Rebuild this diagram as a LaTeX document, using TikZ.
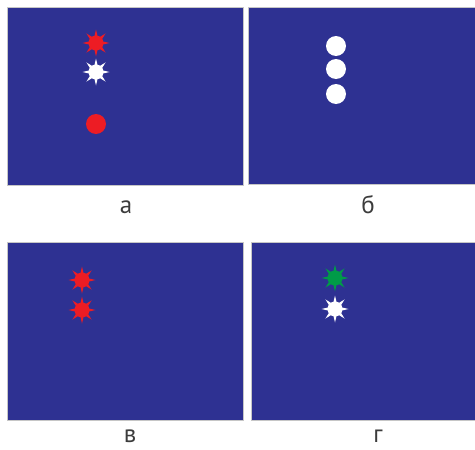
\documentclass[tikz,border=0pt]{standalone}
\usepackage{fontspec}
\setmainfont{PT Sans}
\usetikzlibrary{calc}
\definecolor{panelblue}{RGB}{46,49,146}
\definecolor{lampred}{RGB}{237,28,36}
\definecolor{lampgreen}{RGB}{0,155,72}
\definecolor{labelgray}{RGB}{60,60,60}

\begin{document}
\begin{tikzpicture}[x=1pt, y=-1pt]
    \useasboundingbox (0,0) rectangle (475,450);
    \tikzset{
      panel/.style={fill=panelblue, draw=gray!45, line width=0.8pt},
      caption/.style={anchor=base, inner sep=0pt, text=labelgray, font=\fontsize{25}{30}\selectfont}
    }

    % звёздочка (вспышка): \drawFlash{x}{y}{colour}
    \newcommand{\drawFlash}[3]{
      \fill[#3] (#1,#2) circle (7.5);
      \foreach \a in {0,45,...,315}
        \fill[#3] ($(#1,#2)+(\a-13:7)$) -- ($(#1,#2)+(\a:13.5)$) -- ($(#1,#2)+(\a+13:7)$) -- cycle;
    }

    % панели
    \filldraw[panel] (7,7) rectangle (243,185);
    \filldraw[panel] (248,7) rectangle (476,184);
    \filldraw[panel] (7,242) rectangle (243,420);
    \filldraw[panel] (251,242) rectangle (476,420);

    % а
    \drawFlash{96}{43}{lampred}
    \drawFlash{96}{72}{white}
    \fill[lampred] (96,124) circle (10);
    % б
    \foreach \y in {46,69,94}
      \fill[white] (336,\y) circle (10);
    % в
    \drawFlash{82}{280}{lampred}
    \drawFlash{82}{310}{lampred}
    % г
    \drawFlash{335}{278}{lampgreen}
    \drawFlash{335}{309}{white}

    % подписи
    \node[caption] (capA) at (126,213) {а};
    \node[caption] (capB) at (368,213) {б};
    \node[caption] (capC) at (130,442) {в};
    \node[caption] (capD) at (378,442) {г};
  \end{tikzpicture}
\end{document}
